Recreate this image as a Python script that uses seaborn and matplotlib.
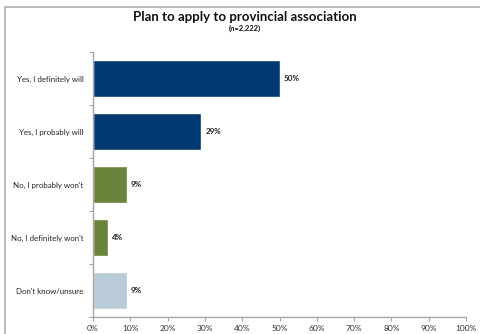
import matplotlib
matplotlib.use("Agg")
import matplotlib.pyplot as plt
from matplotlib.lines import Line2D
from matplotlib.ticker import FixedLocator, PercentFormatter
import seaborn as sns
import pandas as pd

# Survey responses
responses = [
    "Yes, I definitely will",
    "Yes, I probably will",
    "No, I probably won't",
    "No, I definitely won't",
    "Don't know/unsure",
]
percent = [50, 29, 9, 4, 9]
bar_colors = ["#003a70", "#003a70", "#68843a", "#68843a", "#b8cbd7"]
x_ticks = [0, 10, 20, 30, 40, 50, 60, 70, 80, 90, 100]

title = "Plan to apply to provincial association"
subtitle = "(n=2,222)"

sns.set_theme(style="white")
plt.rcParams["font.family"] = ["Lato", "DejaVu Sans"]

df = pd.DataFrame({"response": responses, "percent": percent})

fig = plt.figure(figsize=(4.8, 3.34), dpi=100)
ax = fig.add_axes([93 / 480, 17 / 334, 373 / 480, 265 / 334])

sns.barplot(
    data=df, x="percent", y="response", hue="response",
    palette=bar_colors, order=responses, hue_order=responses,
    width=0.7, legend=False, saturation=1, ax=ax,
)

# Value labels to the right of each bar
for i, v in enumerate(percent):
    ax.text(v + 1.2, i, f"{v}%", va="center", ha="left",
            fontsize=5.8, fontweight="bold", color="#222222")

ax.set_xlim(0, 100)
ax.set_ylim(len(responses) - 0.5, -0.5)
ax.set_xticks(x_ticks)
ax.xaxis.set_major_formatter(PercentFormatter(decimals=0))
ax.set_xlabel("")
ax.set_ylabel("")

# Category labels without marks; marks at category boundaries
ax.tick_params(axis="y", which="major", length=0, pad=7, labelsize=5.7,
               labelcolor="#222222")
ax.yaxis.set_minor_locator(FixedLocator([i - 0.5 for i in range(len(responses) + 1)]))
ax.tick_params(axis="y", which="minor", left=True, length=3, width=0.8,
               color="#a6a6a6")
ax.tick_params(axis="x", which="major", bottom=True, length=3, width=0.8,
               color="#a6a6a6", labelsize=6, labelcolor="#333333", pad=3)

for side in ("top", "right"):
    ax.spines[side].set_visible(False)
for side in ("left", "bottom"):
    ax.spines[side].set_color("#a6a6a6")
    ax.spines[side].set_linewidth(1.0)

fig.text(245 / 480, 1 - 17 / 334, title, ha="center", va="center",
         fontsize=9.5, fontweight="bold", color="#111111")
fig.text(245 / 480, 1 - 28 / 334, subtitle, ha="center", va="center",
         fontsize=5.5, fontweight="bold", color="#111111")

# Chart frame edges
fig.add_artist(Line2D([5 / 480, 1], [1 - 7 / 334, 1 - 7 / 334],
                      transform=fig.transFigure, color="#b0b0b0", lw=1.2))
fig.add_artist(Line2D([5 / 480, 5 / 480], [0, 1 - 7 / 334],
                      transform=fig.transFigure, color="#b0b0b0", lw=1.2))

fig.savefig("out.png", dpi=100)
